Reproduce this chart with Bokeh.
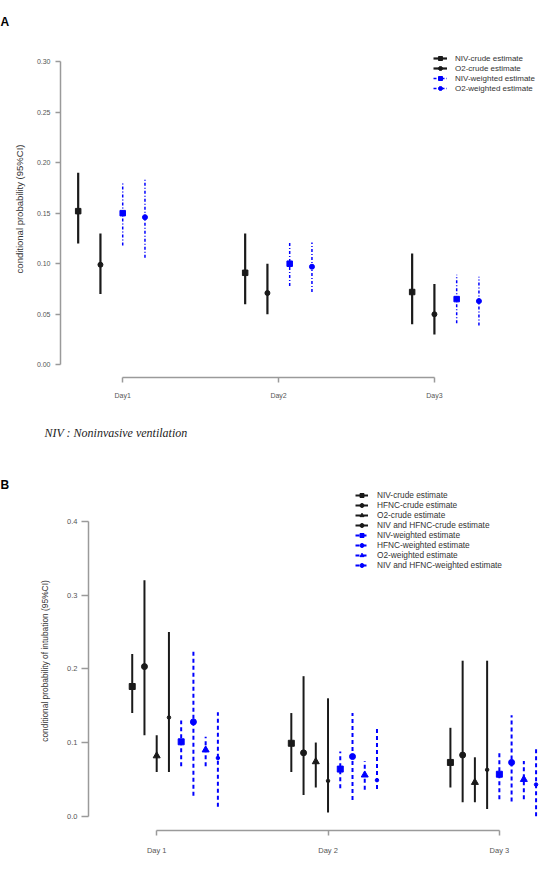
from bokeh.plotting import figure
from bokeh.models import (ColumnDataSource, FixedTicker, Legend, LegendItem,
                          Title, Range1d, NumeralTickFormatter)
from bokeh.embed import file_html
from bokeh.resources import INLINE

FONT = "Liberation Sans"

# ---------------- Panel A data: NIV vs O2 ----------------
days_a = ["Day1", "Day2", "Day3"]
niv_crude_a = [0.152, 0.091, 0.072]
niv_crude_a_lo = [0.120, 0.060, 0.040]
niv_crude_a_hi = [0.190, 0.130, 0.110]
o2_crude_a = [0.099, 0.071, 0.050]
o2_crude_a_lo = [0.070, 0.050, 0.030]
o2_crude_a_hi = [0.130, 0.100, 0.080]
niv_weighted_a = [0.150, 0.100, 0.065]
niv_weighted_a_lo = [0.118, 0.078, 0.041]
niv_weighted_a_hi = [0.180, 0.121, 0.089]
o2_weighted_a = [0.146, 0.097, 0.063]
o2_weighted_a_lo = [0.106, 0.072, 0.039]
o2_weighted_a_hi = [0.185, 0.121, 0.087]

# ---------------- Panel B data: NIV, HFNC, O2, NIV+HFNC ----------------
days_b = ["Day 1", "Day 2", "Day 3"]
niv_crude_b = [0.176, 0.099, 0.073]
niv_crude_b_lo = [0.140, 0.060, 0.039]
niv_crude_b_hi = [0.220, 0.140, 0.120]
hfnc_crude_b = [0.203, 0.086, 0.083]
hfnc_crude_b_lo = [0.110, 0.029, 0.019]
hfnc_crude_b_hi = [0.320, 0.190, 0.211]
o2_crude_b = [0.082, 0.074, 0.046]
o2_crude_b_lo = [0.060, 0.039, 0.019]
o2_crude_b_hi = [0.110, 0.100, 0.080]
nivhfnc_crude_b = [0.134, 0.048, 0.063]
nivhfnc_crude_b_lo = [0.060, 0.005, 0.010]
nivhfnc_crude_b_hi = [0.250, 0.160, 0.211]
niv_weighted_b = [0.101, 0.064, 0.057]
niv_weighted_b_lo = [0.068, 0.038, 0.023]
niv_weighted_b_hi = [0.130, 0.088, 0.086]
hfnc_weighted_b = [0.128, 0.081, 0.073]
hfnc_weighted_b_lo = [0.028, 0.022, 0.020]
hfnc_weighted_b_hi = [0.224, 0.140, 0.137]
o2_weighted_b = [0.090, 0.056, 0.050]
o2_weighted_b_lo = [0.068, 0.036, 0.023]
o2_weighted_b_hi = [0.108, 0.075, 0.075]
nivhfnc_weighted_b = [0.079, 0.049, 0.043]
nivhfnc_weighted_b_lo = [0.013, 0.037, 0.000]
nivhfnc_weighted_b_hi = [0.141, 0.121, 0.095]

CRUDE = "#1a1a1a"
WEIGHTED = "#0000ff"
AXIS = "#9a9a9a"
TICKTXT = "#555555"


def style_axes(p, xticks, xlabels, yticks, yfmt, xb, yb, ylabel, ylabel_size,
               tick_size, ytick_out, ystandoff, xstandoff, ylab_standoff):
    p.xgrid.visible = False
    p.ygrid.visible = False
    p.outline_line_color = None
    xa, ya = p.xaxis[0], p.yaxis[0]
    xa.ticker = FixedTicker(ticks=xticks)
    xa.major_label_overrides = {t: l for t, l in zip(xticks, xlabels)}
    xa.bounds = xb
    ya.ticker = FixedTicker(ticks=yticks)
    ya.formatter = NumeralTickFormatter(format=yfmt)
    ya.bounds = yb
    ya.axis_label = ylabel
    ya.axis_label_text_font = FONT
    ya.axis_label_text_font_style = "normal"
    ya.axis_label_text_font_size = ylabel_size
    ya.axis_label_text_color = "#333333"
    ya.axis_label_standoff = ylab_standoff
    ya.major_tick_out = ytick_out
    ya.major_label_standoff = ystandoff
    xa.major_tick_out = 5
    xa.major_label_standoff = xstandoff
    for ax in (xa, ya):
        ax.axis_line_color = AXIS
        ax.axis_line_width = 1.5
        ax.major_tick_line_color = AXIS
        ax.major_tick_line_width = 1.5
        ax.major_tick_in = 0
        ax.minor_tick_line_color = None
        ax.major_label_text_font = FONT
        ax.major_label_text_font_size = tick_size
        ax.major_label_text_color = TICKTXT


def add_series(p, base, k, est, lo, hi, color, dash, lw, marker, size):
    xs = [g + k for g in base]
    src = ColumnDataSource(dict(x=xs, est=est, lo=lo, hi=hi))
    seg = p.segment(x0="x", y0="lo", x1="x", y1="hi", source=src,
                    line_color=color, line_width=lw, line_dash=dash)
    pts = p.scatter(x="x", y="est", source=src, marker=marker, size=size,
                    fill_color=color, line_color=color)
    return [seg, pts]


# ---------------- Panel A figure ----------------
pa = figure(width=539, height=475, output_backend="svg", toolbar_location=None,
            x_range=Range1d(-0.794, 20.72), y_range=Range1d(-0.01256, 0.3208),
            min_border_left=60, min_border_right=0, min_border_top=40,
            min_border_bottom=98)
style_axes(pa, [2, 9, 16], days_a, [0, 0.05, 0.10, 0.15, 0.20, 0.25, 0.30],
           "0.00", (2, 16), (0, 0.30), "conditional probability (95%CI)",
           "9.5px", "7px", 5, 5, 9, 9)

base_a = [0, 7.5, 15]
series_a = [
    ("NIV-crude estimate", niv_crude_a, niv_crude_a_lo, niv_crude_a_hi, CRUDE, "solid", 2.2, "square", 5.5),
    ("O2-crude estimate", o2_crude_a, o2_crude_a_lo, o2_crude_a_hi, CRUDE, "solid", 2.2, "circle", 5),
    ("NIV-weighted estimate", niv_weighted_a, niv_weighted_a_lo, niv_weighted_a_hi, WEIGHTED, "3 2 1 2", 1.5, "square", 5.5),
    ("O2-weighted estimate", o2_weighted_a, o2_weighted_a_lo, o2_weighted_a_hi, WEIGHTED, "3 2 1 2", 1.5, "circle", 5),
]
items_a = []
for k, (name, est, lo, hi, col, dash, lw, mk, sz) in enumerate(series_a):
    rs = add_series(pa, base_a, k, est, lo, hi, col, dash, lw, mk, sz)
    items_a.append(LegendItem(label=name, renderers=rs))

leg_a = Legend(items=items_a, location=(373, 284), orientation="vertical",
               background_fill_alpha=0, border_line_color=None, padding=0,
               margin=0, spacing=0, glyph_width=14, glyph_height=10,
               label_height=9, label_standoff=8, label_text_font=FONT,
               label_text_font_size="8px", label_text_color="#333333")
pa.add_layout(leg_a)

pa.add_layout(Title(text="A", align="left", offset=-60, standoff=24,
                    text_font=FONT, text_font_style="bold",
                    text_font_size="12px", text_color="#000000"), "above")
pa.add_layout(Title(text="NIV : Noninvasive ventilation", align="left",
                    offset=-16, standoff=44, text_font="Liberation Serif",
                    text_font_style="italic", text_font_size="12px",
                    text_color="#222222"), "below")

# ---------------- Panel B figure ----------------
pb = figure(width=539, height=397, output_backend="svg", toolbar_location=None,
            x_range=Range1d(-3.573, 33.28), y_range=Range1d(-0.0193, 0.4405),
            min_border_left=88, min_border_right=0, min_border_top=15,
            min_border_bottom=42)
style_axes(pb, [2, 16, 30], days_b, [0, 0.1, 0.2, 0.3, 0.4], "0.0",
           (2, 30), (0, 0.4), "conditional probability of intubation (95%CI)",
           "8.4px", "7.5px", 7, 4, 10, 14)

base_b = [0, 13, 26]
series_b = [
    ("NIV-crude estimate", niv_crude_b, niv_crude_b_lo, niv_crude_b_hi, CRUDE, "solid", 2, "square", 6),
    ("HFNC-crude estimate", hfnc_crude_b, hfnc_crude_b_lo, hfnc_crude_b_hi, CRUDE, "solid", 2, "circle", 6),
    ("O2-crude estimate", o2_crude_b, o2_crude_b_lo, o2_crude_b_hi, CRUDE, "solid", 2, "triangle", 7),
    ("NIV and HFNC-crude estimate", nivhfnc_crude_b, nivhfnc_crude_b_lo, nivhfnc_crude_b_hi, CRUDE, "solid", 2, "circle", 3.5),
    ("NIV-weighted estimate", niv_weighted_b, niv_weighted_b_lo, niv_weighted_b_hi, WEIGHTED, "4 3", 2, "square", 6),
    ("HFNC-weighted estimate", hfnc_weighted_b, hfnc_weighted_b_lo, hfnc_weighted_b_hi, WEIGHTED, "4 3", 2, "circle", 6),
    ("O2-weighted estimate", o2_weighted_b, o2_weighted_b_lo, o2_weighted_b_hi, WEIGHTED, "4 3", 2, "triangle", 7),
    ("NIV and HFNC-weighted estimate", nivhfnc_weighted_b, nivhfnc_weighted_b_lo, nivhfnc_weighted_b_hi, WEIGHTED, "4 3", 2, "circle", 3.5),
]
items_b = []
for k, (name, est, lo, hi, col, dash, lw, mk, sz) in enumerate(series_b):
    rs = add_series(pb, base_b, k, est, lo, hi, col, dash, lw, mk, sz)
    items_b.append(LegendItem(label=name, renderers=rs))

leg_b = Legend(items=items_b, location=(267, 260), orientation="vertical",
               background_fill_alpha=0, border_line_color=None, padding=0,
               margin=0, spacing=0, glyph_width=13, glyph_height=10,
               label_height=10, label_standoff=9, label_text_font=FONT,
               label_text_font_size="8.3px", label_text_color="#333333")
pb.add_layout(leg_b)

pb.add_layout(Title(text="B", align="left", offset=-88, standoff=0,
                    text_font=FONT, text_font_style="bold",
                    text_font_size="12px", text_color="#000000"), "above")

# Two independent roots so each panel keeps its own left margin
open("out.html", "w").write(file_html([pa, pb], INLINE))
